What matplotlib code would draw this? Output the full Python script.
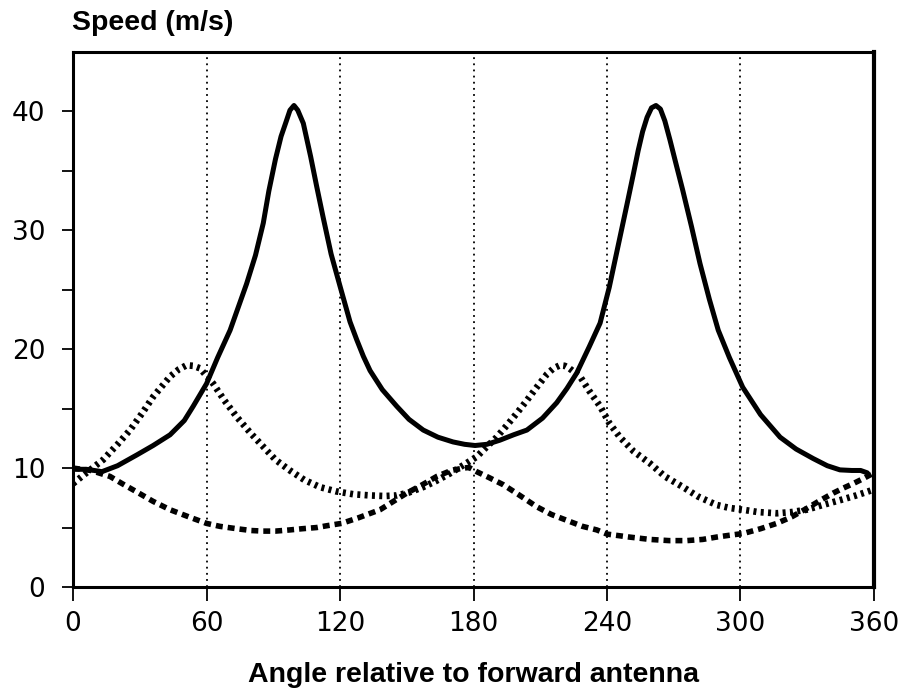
import numpy as np
import matplotlib as mpl
mpl.use('Agg')
import matplotlib.pyplot as plt

# solid curve
solid_angle = [0, 6, 13, 20, 28.6, 36, 43.6, 50, 54, 60, 65, 70.6, 78, 82, 85.5, 88, 91,
               93.5, 95.7, 97.5, 99.3, 101, 103.5, 106.8, 109.5, 112.4, 116, 120, 124.5,
               127.5, 130.5, 133.5, 139, 145.5, 151, 157.4, 164, 170.8, 176, 180.7, 186,
               191.9, 198, 204, 211, 217.4, 222, 226.4, 232, 236.9, 241, 245.8, 249,
               251.7, 254, 256, 258, 260, 262, 264, 266, 268.3, 271, 274, 278, 281.8,
               286, 290, 295, 301, 309, 317.8, 325, 332.7, 339, 344.7, 350, 354, 357]
solid_speed = [9.9, 9.9, 9.7, 10.2, 11.1, 11.9, 12.8, 14.0, 15.2, 17.1, 19.3, 21.6, 25.5,
               27.9, 30.6, 33.3, 36.0, 37.9, 39.1, 40.1, 40.5, 40.1, 39.0, 36.2, 33.7,
               31.1, 28.0, 25.3, 22.3, 20.8, 19.4, 18.2, 16.6, 15.2, 14.1, 13.2, 12.6,
               12.2, 12.0, 11.9, 12.0, 12.35, 12.8, 13.2, 14.2, 15.5, 16.7, 18.0, 20.2,
               22.2, 25.2, 29.4, 32.2, 34.6, 36.7, 38.3, 39.5, 40.3, 40.5, 40.2, 39.2,
               37.6, 35.6, 33.4, 30.3, 27.2, 24.2, 21.6, 19.3, 16.8, 14.5, 12.6, 11.6,
               10.8, 10.2, 9.85, 9.8, 9.8, 9.6]

# dotted curve
dot_angle = [0, 6, 13.5, 20, 25.6, 31, 36, 43.6, 47.5, 51, 54, 57, 63, 68, 73.6, 80,
             85.5, 91, 97.5, 104, 111, 118, 126, 133.5, 140, 145.5, 151, 157.3, 163,
             169.4, 175, 181.4, 186, 190.4, 195, 199.4, 204, 208.4, 213, 216, 218.9,
             221, 223, 227.9, 232, 236.9, 241, 245.8, 252, 259.3, 266, 274.2, 281,
             289.3, 295, 301, 308, 316.3, 323, 329.7, 337, 344.7, 352, 360]
dot_speed = [8.7, 9.6, 10.7, 12.0, 13.2, 14.6, 16.0, 17.7, 18.3, 18.65, 18.6, 18.4, 17.1,
             15.7, 14.3, 12.9, 11.8, 10.7, 9.8, 9.0, 8.4, 8.05, 7.8, 7.7, 7.65, 7.7, 7.95,
             8.4, 8.9, 9.55, 10.2, 10.95, 11.8, 12.6, 13.6, 14.6, 15.7, 16.8, 17.9, 18.4,
             18.65, 18.6, 18.4, 17.7, 16.5, 15.2, 13.8, 12.6, 11.4, 10.4, 9.3, 8.4, 7.6,
             6.9, 6.65, 6.5, 6.3, 6.2, 6.3, 6.5, 6.9, 7.3, 7.7, 8.2]

# dashed curve
dash_angle = [0, 8, 16.6, 22, 28.6, 36, 43.6, 52, 60, 66, 73.6, 80, 85.5, 91, 97.5, 103,
              109.5, 114, 120.7, 128, 138, 144, 150, 157, 163.5, 170, 175.4, 178, 181.4,
              187, 193.4, 200, 208.4, 215, 223.4, 229, 235.4, 240, 250, 259.3, 268,
              275.8, 283, 289.3, 295, 301.3, 309, 316.3, 323, 329.7, 336, 341.7, 346,
              350.7, 355, 360]
dash_speed = [10.0, 9.8, 9.3, 8.7, 8.0, 7.2, 6.5, 5.9, 5.35, 5.1, 4.9, 4.75, 4.7, 4.7,
              4.8, 4.9, 5.0, 5.15, 5.35, 5.8, 6.5, 7.2, 7.9, 8.6, 9.3, 9.8, 10.0, 10.05,
              9.7, 9.2, 8.6, 7.8, 6.75, 6.1, 5.5, 5.1, 4.8, 4.45, 4.2, 4.0, 3.9, 3.9, 4.0,
              4.2, 4.35, 4.5, 4.9, 5.35, 5.9, 6.6, 7.3, 7.9, 8.3, 8.7, 9.1, 9.6]

xticks = [0, 60, 120, 180, 240, 300, 360]
yticks = [0, 10, 20, 30, 40]

fig = plt.figure(figsize=(9.04, 6.94), dpi=100)
ax = fig.add_axes([0.0808, 0.1542, 0.886, 0.7709])

for x in xticks[1:-1]:
    ax.axvline(x, color='black', lw=1.3, linestyle=(0, (1, 2.4)), zorder=1)

ax.plot(solid_angle, solid_speed, color='black', lw=3.6, solid_capstyle='round',
        solid_joinstyle='round', zorder=3)
ax.plot(dot_angle, dot_speed, color='black', lw=4.8, linestyle=(0, (0.45, 0.65)),
        dash_capstyle='butt', zorder=3)
ax.plot(dash_angle, dash_speed, color='black', lw=4.0, linestyle=(0, (1.25, 0.9)),
        dash_capstyle='butt', zorder=3)

ax.set_xlim(0, 360)
ax.set_ylim(0, 45)
ax.set_xticks(xticks)
ax.set_yticks(yticks)
ax.set_yticks([5, 15, 25, 35], minor=True)

for s in ax.spines.values():
    s.set_linewidth(2.2)
ax.spines['right'].set_linewidth(3)

ax.tick_params(axis='x', direction='out', length=10, width=1.3, pad=7,
               labelsize=19, labelfontfamily='DejaVu Sans')
ax.tick_params(axis='y', which='both', direction='out', length=8, width=1.3, pad=12,
               labelsize=19, labelfontfamily='DejaVu Sans')

fig.text(72 / 904, 1 - 30 / 694, 'Speed (m/s)', ha='left', va='baseline',
         fontsize=20.5, fontweight='bold', family='Liberation Sans')
fig.text(473.5 / 904, 1 - 682 / 694, 'Angle relative to forward antenna', ha='center',
         va='baseline', fontsize=20.5, fontweight='bold', family='Liberation Sans')

fig.savefig('out.png', dpi=100)
